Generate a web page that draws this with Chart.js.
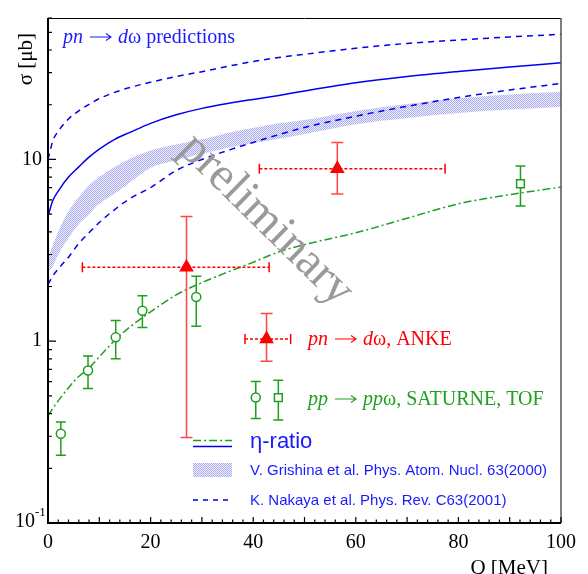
<!DOCTYPE html>
<html>
<head>
<meta charset="utf-8">
<script src="https://cdn.jsdelivr.net/npm/chart.js@4.4.0/dist/chart.umd.min.js"></script>
<style>
  html, body { margin: 0; padding: 0; background: #fff; }
</style>
</head>
<body>
<canvas id="xsec" width="588" height="574"></canvas>
<script>
// Q grid [MeV] for the theory curves
const qGrid = [0, 1, 2, 4, 6, 8, 10, 13, 16, 20, 25, 30, 35, 40, 45, 50, 60, 70, 80, 90, 100];
// pn -> d omega, eta-ratio prediction (blue solid)
const etaRatioPn = [4.9, 6.0, 6.7, 8.0, 9.1, 10.3, 11.4, 12.9, 14.1, 15.8, 17.6, 19.1, 20.3, 21.4, 22.5, 23.8, 26.4, 28.6, 30.5, 32.3, 34.0];
// Nakaya et al. (blue dashed, upper and lower)
const nakayaUpper = [10.0, 12.8, 14.3, 16.7, 18.5, 20.1, 21.6, 23.4, 24.9, 26.6, 28.6, 30.4, 32.5, 34.6, 36.4, 37.9, 40.9, 43.5, 45.4, 47.2, 48.8];
const nakayaLower = [2.05, 2.3, 2.5, 2.9, 3.45, 3.95, 4.5, 5.3, 6.1, 7.0, 8.7, 10.0, 11.2, 12.4, 13.7, 15.0, 17.3, 19.6, 21.9, 24.1, 26.2];
// Grishina et al. band
const grishinaUpper = [2.9, 3.4, 4.0, 5.2, 6.2, 7.2, 8.0, 9.1, 10.1, 11.2, 12.1, 12.9, 14.0, 14.9, 15.8, 16.5, 18.5, 20.2, 21.7, 22.8, 23.6];
const grishinaLower = [2.4, 2.6, 3.0, 3.7, 4.4, 5.0, 5.7, 6.5, 7.5, 9.0, 9.9, 10.7, 11.6, 12.3, 13.0, 13.8, 15.6, 16.9, 18.0, 18.8, 19.5];
// pp -> pp omega, eta-ratio fit (green dash-dot)
const etaRatioPp = [0.39, 0.43, 0.47, 0.555, 0.64, 0.71, 0.82, 1.01, 1.2, 1.45, 1.8, 2.1, 2.4, 2.72, 3.1, 3.4, 3.95, 4.75, 5.7, 6.4, 7.05];

// ANKE pn -> d omega
const ankeQ = [27.0, 56.4];
const ankeQLow = [6.7, 41.2];
const ankeQHigh = [43.1, 77.4];
const ankeSigma = [2.55, 8.9];
const ankeSigmaLow = [0.295, 6.45];
const ankeSigmaHigh = [4.85, 12.4];

// SATURNE (circles) and TOF (square) pp -> pp omega
const saturneQ = [2.5, 7.8, 13.2, 18.4, 28.9];
const saturneSigma = [0.31, 0.69, 1.05, 1.47, 1.75];
const saturneLow = [0.236, 0.55, 0.80, 1.19, 1.21];
const saturneHigh = [0.36, 0.83, 1.30, 1.78, 2.28];
const tofQ = [92.1];
const tofSigma = [7.35];
const tofLow = [5.55];
const tofHigh = [9.2];

// legend keys, drawn as points in the frame
const keyAnkeQ = [42.6], keyAnkeQLow = [38.4], keyAnkeQHigh = [47.3];
const keyAnkeSigma = [1.03], keyAnkeLow = [0.776], keyAnkeHigh = [1.42];
const keySatQ = [40.5], keySatSigma = [0.49], keySatLow = [0.376], keySatHigh = [0.60];
const keyTofQ = [44.9], keyTofSigma = [0.49], keyTofLow = [0.369], keyTofHigh = [0.61];

// axis ticks
const xTickValues = [0, 20, 40, 60, 80, 100];
const yTickValues = [0.1, 1, 10];

const BLUE = '#0000ee';
const RED = '#ff0000';
const GREEN = '#1f9f1f';
const SERIF = '"Liberation Serif"';
const SANS = '"Liberation Sans"';
const ARROW = '->';

function pts(xs, ys) {
    return xs.map((x, i) => ({ x: x, y: ys[i] }));
}

// fine dotted pattern for the Grishina band
function makeHatch() {
    const c = document.createElement('canvas');
    c.width = 2; c.height = 2;
    const g = c.getContext('2d');
    g.fillStyle = 'rgb(238,238,252)';
    g.fillRect(0, 0, 2, 2);
    g.fillStyle = 'rgb(172,172,240)';
    g.fillRect(0, 0, 1, 1);
    g.fillRect(1, 1, 1, 1);
    return g.createPattern(c, 'repeat');
}
const hatch = makeHatch();

function curve(data, color, dash, extra) {
    return Object.assign({
        data: data,
        borderColor: color,
        borderWidth: 1.5,
        borderDash: dash,
        pointRadius: 0,
        fill: false,
        cubicInterpolationMode: 'monotone',
        tension: 0.4
    }, extra || {});
}

function marks(data, style, radius, fillColor, color) {
    return {
        data: data,
        showLine: false,
        pointStyle: style,
        pointRadius: radius,
        pointBackgroundColor: fillColor,
        pointBorderColor: color,
        pointBorderWidth: 1.5
    };
}

// vertical error bars with caps
function vErrors(chart, xs, lo, hi, color, cap) {
    const sx = chart.scales.x, sy = chart.scales.y;
    const c = chart.ctx;
    c.save();
    c.strokeStyle = color;
    c.lineWidth = 1.5;
    c.setLineDash([]);
    xs.forEach((q, i) => {
        const px = sx.getPixelForValue(q);
        const y1 = sy.getPixelForValue(lo[i]);
        const y2 = sy.getPixelForValue(hi[i]);
        c.beginPath();
        c.moveTo(px, y1); c.lineTo(px, y2);
        c.moveTo(px - cap, y1); c.lineTo(px + cap, y1);
        c.moveTo(px - cap, y2); c.lineTo(px + cap, y2);
        c.stroke();
    });
    c.restore();
}

// horizontal (dotted) error bars with caps
function hErrors(chart, s, qlo, qhi, color) {
    const sx = chart.scales.x, sy = chart.scales.y;
    const c = chart.ctx;
    c.save();
    c.strokeStyle = color;
    c.lineWidth = 1.5;
    s.forEach((v, i) => {
        const py = sy.getPixelForValue(v);
        const x1 = sx.getPixelForValue(qlo[i]);
        const x2 = sx.getPixelForValue(qhi[i]);
        c.setLineDash([3, 2]);
        c.beginPath();
        c.moveTo(x1, py); c.lineTo(x2, py);
        c.stroke();
        c.setLineDash([]);
        c.beginPath();
        c.moveTo(x1, py - 5); c.lineTo(x1, py + 5);
        c.moveTo(x2, py - 5); c.lineTo(x2, py + 5);
        c.stroke();
    });
    c.restore();
}

// text with italic parts and a drawn long arrow
function richText(c, parts, x, y, size, color) {
    c.fillStyle = color;
    c.strokeStyle = color;
    c.textAlign = 'left';
    c.textBaseline = 'alphabetic';
    parts.forEach(([t, it]) => {
        if (t === ARROW) {
            const ay = y - size * 0.3;
            const x1 = x + 7, x2 = x + 7 + size * 1.05;
            c.lineWidth = 1.1;
            c.setLineDash([]);
            c.beginPath();
            c.moveTo(x1, ay); c.lineTo(x2, ay);
            c.moveTo(x2 - 5, ay - 3.5); c.lineTo(x2, ay); c.lineTo(x2 - 5, ay + 3.5);
            c.stroke();
            x = x2 + 7;
            return;
        }
        c.font = (it ? 'italic ' : '') + size + 'px ' + SERIF;
        c.fillText(t, x, y);
        x += c.measureText(t).width;
    });
}

const errorBars = {
    id: 'errorBars',
    beforeDatasetDraw(chart, args) {
        if (args.index !== 5) return;
        hErrors(chart, ankeSigma, ankeQLow, ankeQHigh, RED);
        hErrors(chart, keyAnkeSigma, keyAnkeQLow, keyAnkeQHigh, RED);
        vErrors(chart, ankeQ, ankeSigmaLow, ankeSigmaHigh, '#ff4545', 6);
        vErrors(chart, keyAnkeQ, keyAnkeLow, keyAnkeHigh, '#ff4545', 6);
        vErrors(chart, saturneQ, saturneLow, saturneHigh, GREEN, 5);
        vErrors(chart, tofQ, tofLow, tofHigh, GREEN, 5);
        vErrors(chart, keySatQ, keySatLow, keySatHigh, GREEN, 5);
        vErrors(chart, keyTofQ, keyTofLow, keyTofHigh, GREEN, 5);
    }
};

const decorations = {
    id: 'decorations',
    afterDraw(chart) {
        const c = chart.ctx;
        const a = chart.chartArea;
        const sx = chart.scales.x, sy = chart.scales.y;

        // watermark
        c.save();
        c.translate(266, 220);
        c.rotate(44.5 * Math.PI / 180);
        c.font = '48px ' + SERIF;
        c.fillStyle = '#9a9a9a';
        c.textAlign = 'center';
        c.textBaseline = 'middle';
        c.fillText('preliminary', 0, 0);
        c.restore();

        // frame
        c.save();
        c.strokeStyle = '#000';
        c.lineWidth = 1;
        c.beginPath();
        c.moveTo(a.left, a.top + 0.5); c.lineTo(a.right, a.top + 0.5);
        c.stroke();
        c.strokeStyle = '#555';
        c.lineWidth = 1.5;
        c.beginPath();
        c.moveTo(a.right, a.top); c.lineTo(a.right, a.bottom);
        c.stroke();
        c.strokeStyle = '#000';
        c.lineWidth = 2;
        c.beginPath();
        c.moveTo(a.left, a.top); c.lineTo(a.left, a.bottom);
        c.lineTo(a.right, a.bottom);
        c.stroke();

        // inner tick marks
        c.lineWidth = 1.2;
        c.beginPath();
        for (let q = 0; q <= 100; q += 2) {
            const px = sx.getPixelForValue(q);
            const len = q % 10 === 0 ? 6 : 3.5;
            c.moveTo(px, a.bottom); c.lineTo(px, a.bottom - len);
        }
        for (let d = 0.1; d < 100; d *= 10) {
            for (let k = 1; k <= 9; k++) {
                const v = k * d;
                if (v > sy.max) break;
                const py = sy.getPixelForValue(v);
                const len = k === 1 ? 8 : 4;
                c.moveTo(a.left, py); c.lineTo(a.left + len, py);
            }
        }
        c.stroke();

        // 10^-1 label
        const p01 = sy.getPixelForValue(0.1);
        c.fillStyle = '#000';
        c.textAlign = 'right';
        c.textBaseline = 'middle';
        c.font = '20px ' + SERIF;
        c.fillText('10', 35, p01 - 1);
        c.textAlign = 'left';
        c.font = '13px ' + SERIF;
        c.fillText('-1', 35, p01 - 10);

        // axis titles
        c.textAlign = 'right';
        c.textBaseline = 'alphabetic';
        c.font = '21px ' + SERIF;
        c.fillText('Q [MeV]', 548, 574);
        c.save();
        c.translate(32, 33);
        c.rotate(-Math.PI / 2);
        c.textAlign = 'right';
        c.fillText('\u03c3 [\u03bcb]', 0, 0);
        c.restore();

        // annotations
        richText(c, [['pn', true], [ARROW], ['d', true], ['\u03c9 predictions', false]], 63, 43, 20, '#1a1aff');
        richText(c, [['pn', true], [ARROW], ['d', true], ['\u03c9, ANKE', false]], 308, 345, 20, RED);
        richText(c, [['pp', true], [ARROW], ['pp', true], ['\u03c9, SATURNE, TOF', false]], 308, 405, 20, '#20a020');

        // legend
        c.setLineDash([8, 3, 2, 3]);
        c.strokeStyle = GREEN;
        c.lineWidth = 1.5;
        c.beginPath(); c.moveTo(193, 440.5); c.lineTo(232, 440.5); c.stroke();
        c.setLineDash([]);
        c.strokeStyle = BLUE;
        c.beginPath(); c.moveTo(193, 446.5); c.lineTo(232, 446.5); c.stroke();
        c.fillStyle = hatch;
        c.fillRect(193, 463, 39, 14);
        c.setLineDash([5, 5]);
        c.beginPath(); c.moveTo(193, 500); c.lineTo(232, 500); c.stroke();
        c.setLineDash([]);

        c.fillStyle = '#1a1aff';
        c.textAlign = 'left';
        c.textBaseline = 'alphabetic';
        c.font = '22px ' + SANS;
        c.fillText('\u03b7-ratio', 250, 448);
        c.font = '15px ' + SANS;
        c.fillText('V. Grishina et al. Phys. Atom. Nucl. 63(2000)', 250, 475);
        c.fillText('K. Nakaya et al. Phys. Rev. C63(2001)', 250, 505);
        c.restore();
    }
};

new Chart(document.getElementById('xsec').getContext('2d'), {
    type: 'line',
    data: {
        datasets: [
            marks(pts(ankeQ, ankeSigma), 'triangle', 7, RED, RED),
            marks(pts(saturneQ, saturneSigma), 'circle', 4.5, '#fff', GREEN),
            marks(pts(tofQ, tofSigma), 'rect', 5.5, '#fff', GREEN),
            marks(pts(keyAnkeQ, keyAnkeSigma), 'triangle', 7, RED, RED),
            marks(pts(keySatQ, keySatSigma), 'circle', 4.5, '#fff', GREEN),
            marks(pts(keyTofQ, keyTofSigma), 'rect', 5.5, '#fff', GREEN),
            curve(pts(qGrid, etaRatioPp), GREEN, [8, 3, 2, 3]),
            curve(pts(qGrid, etaRatioPn), BLUE, []),
            curve(pts(qGrid, nakayaUpper), BLUE, [6, 5]),
            curve(pts(qGrid, nakayaLower), BLUE, [6, 5]),
            curve(pts(qGrid, grishinaLower), 'rgba(0,0,0,0)', [], { borderWidth: 0 }),
            curve(pts(qGrid, grishinaUpper), 'rgba(0,0,0,0)', [], { borderWidth: 0, fill: '-1', backgroundColor: hatch })
        ]
    },
    options: {
        responsive: false,
        animation: false,
        events: [],
        layout: { padding: { top: 10, right: 27, left: 0, bottom: 0 } },
        plugins: {
            legend: { display: false },
            tooltip: { enabled: false }
        },
        scales: {
            x: {
                type: 'linear',
                min: 0,
                max: 100,
                grid: { display: false, drawTicks: false },
                border: { display: false },
                afterBuildTicks: s => { s.ticks = xTickValues.map(v => ({ value: v })); },
                afterFit: s => { s.height = 51; },
                ticks: {
                    padding: 8,
                    color: '#000',
                    font: { family: 'Liberation Serif', size: 20 },
                    maxRotation: 0
                }
            },
            y: {
                type: 'logarithmic',
                min: 0.1,
                max: 60,
                grid: { display: false, drawTicks: false },
                border: { display: false },
                afterBuildTicks: s => { s.ticks = yTickValues.map(v => ({ value: v })); },
                afterFit: s => { s.width = 48; },
                ticks: {
                    padding: 6,
                    color: '#000',
                    autoSkip: false,
                    font: { family: 'Liberation Serif', size: 20 },
                    callback: v => (v === 1 ? '1' : v === 10 ? '10' : '')
                }
            }
        }
    },
    plugins: [errorBars, decorations]
});
</script>
</body>
</html>
